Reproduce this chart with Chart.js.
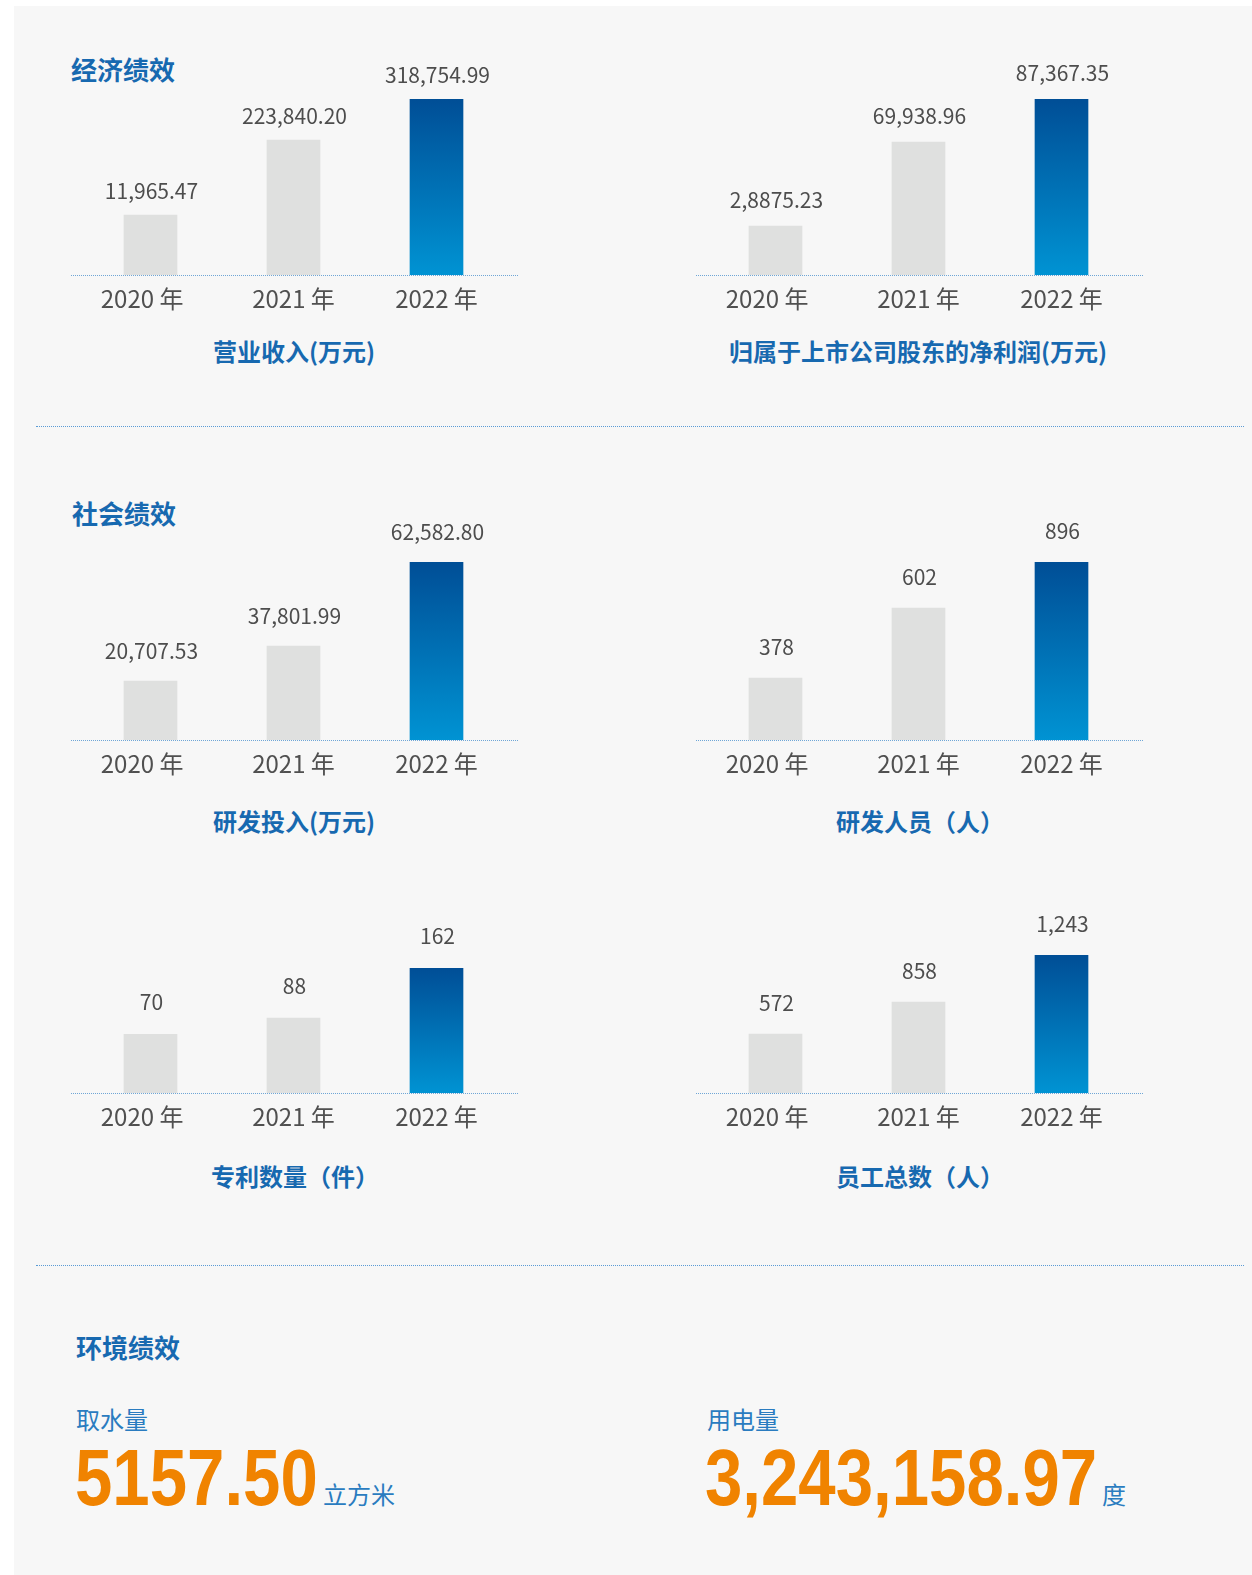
<!DOCTYPE html>
<html lang="zh-CN">
<head>
<meta charset="utf-8">
<title>绩效</title>
<script src="https://cdn.jsdelivr.net/npm/chart.js@4.4.1/dist/chart.umd.min.js"></script>
<style>
    html, body {
        margin: 0;
        padding: 0;
        background: #ffffff;
        font-family: "Noto Sans CJK SC", "Noto Sans", sans-serif;
    }
    .page {
        position: relative;
        width: 1252px;
        height: 1575px;
        overflow: hidden;
    }
    .panel {
        position: absolute;
        left: 14px;
        top: 6px;
        right: 0;
        bottom: 0;
        background: #f7f7f7;
    }
    .abs { position: absolute; white-space: nowrap; }
    .section-title {
        font-size: 26px;
        line-height: 26px;
        font-weight: 700;
        color: #1769b0;
    }
    .chart-title {
        width: 448px;
        text-align: center;
        font-size: 24px;
        line-height: 24px;
        font-weight: 700;
        color: #1769b0;
    }
    .sep {
        left: 36px;
        width: 1208px;
        height: 0;
        border-top: 1px dotted #5b9bd5;
    }
    canvas { position: absolute; }
    .env-label {
        font-size: 24px;
        line-height: 24px;
        color: #2a7cc0;
    }
    .big-num {
        font-family: "Liberation Sans", Arial, sans-serif;
        font-weight: 700;
        font-size: 79px;
        line-height: 79px;
        color: #f08300;
        transform: scaleX(0.85);
        transform-origin: left top;
    }
</style>
</head>
<body>
<div class="page">
    <div class="panel"></div>

    <div class="abs section-title" style="left:71px; top:56px;">经济绩效</div>
    <canvas id="chart-revenue" width="448" height="276" style="left:71px; top:39px;"></canvas>
    <canvas id="chart-profit" width="448" height="276" style="left:696px; top:39px;"></canvas>
    <div class="abs chart-title" style="left:70px; top:339px;">营业收入(万元)</div>
    <div class="abs chart-title" style="left:694px; top:339px;">归属于上市公司股东的净利润(万元)</div>

    <div class="abs sep" style="top:426px;"></div>

    <div class="abs section-title" style="left:72px; top:500px;">社会绩效</div>
    <canvas id="chart-rd" width="448" height="278" style="left:71px; top:502px;"></canvas>
    <canvas id="chart-staff-rd" width="448" height="278" style="left:696px; top:502px;"></canvas>
    <div class="abs chart-title" style="left:70px; top:809px;">研发投入(万元)</div>
    <div class="abs chart-title" style="left:696px; top:809px;">研发人员（人）</div>

    <canvas id="chart-patent" width="448" height="225" style="left:71px; top:908px;"></canvas>
    <canvas id="chart-staff" width="448" height="238" style="left:696px; top:895px;"></canvas>
    <div class="abs chart-title" style="left:71px; top:1164px;">专利数量（件）</div>
    <div class="abs chart-title" style="left:696px; top:1164px;">员工总数（人）</div>

    <div class="abs sep" style="top:1265px;"></div>

    <div class="abs section-title" style="left:76px; top:1334px;">环境绩效</div>
    <div class="abs env-label" style="left:76px; top:1407px;">取水量</div>
    <div class="abs big-num" style="left:75px; top:1438px;">5157.50</div>
    <div class="abs env-label" style="left:323px; top:1482px;">立方米</div>
    <div class="abs env-label" style="left:707px; top:1407px;">用电量</div>
    <div class="abs big-num" style="left:705px; top:1438px;">3,243,158.97</div>
    <div class="abs env-label" style="left:1102px; top:1482px;">度</div>
</div>

<script>
// Years on the x axis (same for every chart)
const years = ['2020 年', '2021 年', '2022 年'];

// Each chart: the printed figure above the bar, and the bar length as drawn.
// The picture is not drawn to scale with its printed figures,
// so bar lengths are read off the bars themselves (2022 bar = its figure).

// 营业收入(万元)
const revenueText = ['11,965.47', '223,840.20', '318,754.99'];
const revenueBars = [108700, 244500, 318754.99];

// 归属于上市公司股东的净利润(万元)
const profitText = ['2,8875.23', '69,938.96', '87,367.35'];
const profitBars = [24300, 66000, 87367.35];

// 研发投入(万元)
const rdText = ['20,707.53', '37,801.99', '62,582.80'];
const rdBars = [20700, 33000, 62582.80];

// 研发人员（人）
const rdStaffText = ['378', '602', '896'];
const rdStaffBars = [312, 664, 896];

// 专利数量（件）
const patentText = ['70', '88', '162'];
const patentBars = [76, 97, 162];

// 员工总数（人）
const staffText = ['572', '858', '1,243'];
const staffBars = [531, 820, 1243];

const FONT = '"Noto Sans CJK SC", "Noto Sans", sans-serif';
const GRAY_BAR = '#dfe0df';

// ── dotted baseline across the whole canvas ──
const baselinePlugin = {
    id: 'baseline',
    beforeDatasetsDraw(chart) {
        const ctx = chart.ctx;
        const y = chart.chartArea.bottom + 0.5;
        ctx.save();
        ctx.strokeStyle = '#6fa6d6';
        ctx.lineWidth = 1;
        ctx.setLineDash([1, 1]);
        ctx.beginPath();
        ctx.moveTo(0, y);
        ctx.lineTo(chart.width, y);
        ctx.stroke();
        ctx.restore();
    }
};

// ── printed figure above each bar ──
const valueLabelPlugin = {
    id: 'valueLabels',
    afterDatasetsDraw(chart, args, opts) {
        const ctx = chart.ctx;
        const meta = chart.getDatasetMeta(0);
        ctx.save();
        ctx.font = '21px ' + FONT;
        ctx.fillStyle = '#4d4d4d';
        ctx.textAlign = 'center';
        ctx.textBaseline = 'alphabetic';
        meta.data.forEach(function(bar, i) {
            ctx.fillText(opts.texts[i], bar.x + 1, bar.y - opts.gap);
        });
        ctx.restore();
    }
};

// blue gradient for the latest year, gray for the others
function barColor(context) {
    if (context.dataIndex !== 2) return GRAY_BAR;
    const area = context.chart.chartArea;
    if (!area) return '#0070b8';
    const g = context.chart.ctx.createLinearGradient(0, area.top, 0, area.bottom);
    g.addColorStop(0, '#004e96');
    g.addColorStop(1, '#0093d3');
    return g;
}

// the first year label sits a little left of its bar in the original
function yearTick(value, index) {
    return index === 0 ? years[index] + '\u2002\u2009' : years[index];
}

function makeBarChart(id, bars, texts, gap) {
    const canvas = document.getElementById(id);
    if (!canvas) return null;

    return new Chart(canvas.getContext('2d'), {
        type: 'bar',
        data: {
            labels: years,
            datasets: [{
                data: bars,
                backgroundColor: barColor,
                borderWidth: 0,
                barThickness: 53
            }]
        },
        plugins: [baselinePlugin, valueLabelPlugin],
        options: {
            responsive: false,
            animation: false,
            layout: { padding: { top: 60, left: 8, right: 11, bottom: 0 } },
            plugins: {
                legend: { display: false },
                tooltip: { enabled: false },
                valueLabels: { texts: texts, gap: gap }
            },
            scales: {
                x: {
                    grid: { display: false, drawTicks: false },
                    border: { display: false },
                    ticks: {
                        color: '#505050',
                        font: { family: FONT, size: 24 },
                        padding: 9,
                        autoSkip: false,
                        maxRotation: 0,
                        callback: yearTick
                    },
                    afterFit: function(scale) { scale.height = 40; }
                },
                y: {
                    display: false,
                    min: 0,
                    max: Math.max(...bars)
                }
            }
        }
    });
}

// Page load
document.addEventListener('DOMContentLoaded', function() {
    makeBarChart('chart-revenue', revenueBars, revenueText, 16);
    makeBarChart('chart-profit', profitBars, profitText, 18);
    makeBarChart('chart-rd', rdBars, rdText, 22);
    makeBarChart('chart-staff-rd', rdStaffBars, rdStaffText, 23);
    makeBarChart('chart-patent', patentBars, patentText, 24);
    makeBarChart('chart-staff', staffBars, staffText, 23);
});
</script>
</body>
</html>
